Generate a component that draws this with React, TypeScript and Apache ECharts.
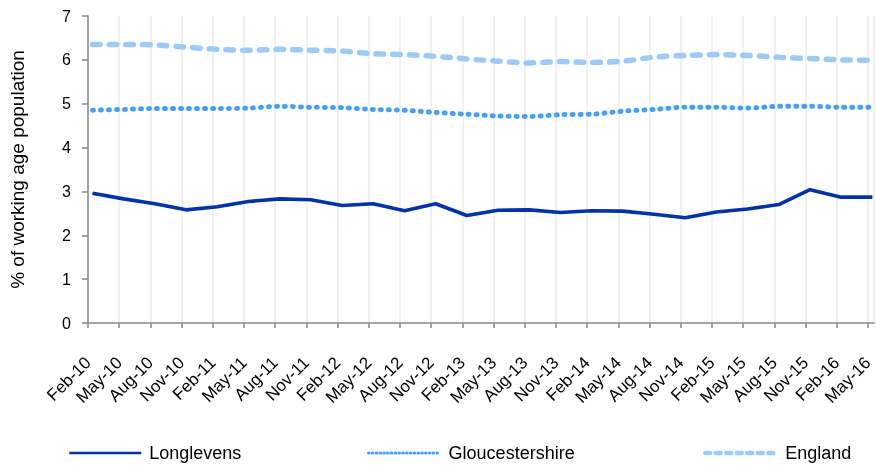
import React, { useEffect, useRef } from 'react';
import * as echarts from 'echarts';

// Quarterly periods (tick labels on the x axis)
const periods = [
  'Feb-10', 'May-10', 'Aug-10', 'Nov-10',
  'Feb-11', 'May-11', 'Aug-11', 'Nov-11',
  'Feb-12', 'May-12', 'Aug-12', 'Nov-12',
  'Feb-13', 'May-13', 'Aug-13', 'Nov-13',
  'Feb-14', 'May-14', 'Aug-14', 'Nov-14',
  'Feb-15', 'May-15', 'Aug-15', 'Nov-15',
  'Feb-16', 'May-16',
];

// % of working age population
const longlevens = [
  2.96, 2.83, 2.72, 2.58, 2.65, 2.77, 2.83, 2.81, 2.68, 2.72, 2.56, 2.72, 2.45,
  2.57, 2.58, 2.52, 2.56, 2.55, 2.48, 2.40, 2.53, 2.60, 2.70, 3.04, 2.87, 2.87,
];
const gloucestershire = [
  4.85, 4.87, 4.89, 4.89, 4.89, 4.90, 4.94, 4.92, 4.91, 4.87, 4.85, 4.80, 4.76,
  4.72, 4.71, 4.75, 4.76, 4.83, 4.87, 4.92, 4.92, 4.90, 4.94, 4.94, 4.92, 4.92,
];
const england = [
  6.35, 6.35, 6.34, 6.29, 6.24, 6.22, 6.24, 6.22, 6.20, 6.14, 6.12, 6.08, 6.02,
  5.97, 5.93, 5.96, 5.94, 5.97, 6.06, 6.10, 6.12, 6.10, 6.06, 6.03, 6.00, 5.99,
];

// Observations are dated mid-month; the axis counts months from Feb-10.
const OBS_DAY = 14;
const MONTHS_PER_PERIOD = 3;
const AXIS_MAX_MONTHS = 75.6;

const toPoints = (vals: number[]) =>
  vals.map((v, i) => [i * MONTHS_PER_PERIOD + (OBS_DAY - 1) / 30, v]);

const FONT = '"Liberation Sans", Arial, sans-serif';

export default function App() {
  const ref = useRef<HTMLDivElement>(null);

  useEffect(() => {
    document.body.style.margin = '0';
    if (!ref.current) return;
    const chart = echarts.init(ref.current, null, { renderer: 'svg' });

    const legendBase = {
      top: 444,
      padding: 0,
      itemWidth: 72,
      itemHeight: 14,
      itemStyle: { opacity: 0 },
      textStyle: {
        fontFamily: FONT,
        fontSize: 18,
        color: '#000',
        padding: [0, 0, 0, 3],
      },
    };

    chart.setOption({
      animation: false,
      textStyle: { fontFamily: FONT },
      grid: { left: 88, right: 0, top: 16, bottom: 142, containLabel: false },
      legend: [
        {
          ...legendBase,
          left: 68,
          data: ['Longlevens'],
          lineStyle: { width: 2.5 },
        },
        {
          ...legendBase,
          left: 367,
          data: ['Gloucestershire'],
          lineStyle: { width: 3.2, type: [0.5, 3.3], cap: 'round' },
        },
        {
          ...legendBase,
          left: 703,
          data: ['England'],
          lineStyle: { width: 4.5, type: [5, 5.5], cap: 'round' },
        },
      ],
      xAxis: {
        type: 'value',
        min: 0,
        max: AXIS_MAX_MONTHS,
        interval: MONTHS_PER_PERIOD,
        axisLine: { show: true, onZero: false, lineStyle: { color: '#888888', width: 1.5 } },
        axisTick: { show: true, inside: false, length: 5, lineStyle: { color: '#888888', width: 1.5 } },
        splitLine: { show: true, lineStyle: { color: '#ececec', width: 1.5 } },
        axisLabel: {
          rotate: 45,
          margin: 37,
          fontSize: 17,
          color: '#000',
          fontFamily: FONT,
          showMaxLabel: false,
          formatter: (v: number) => {
            const i = Math.round(v / MONTHS_PER_PERIOD);
            if (Math.abs(v - i * MONTHS_PER_PERIOD) > 1e-6) return '';
            return periods[i] ?? '';
          },
        },
      },
      yAxis: {
        type: 'value',
        min: 0,
        max: 7,
        interval: 1,
        name: '% of working age population',
        nameLocation: 'middle',
        nameGap: 61,
        nameTextStyle: { fontSize: 19, color: '#000', fontFamily: FONT },
        axisLine: { show: true, lineStyle: { color: '#888888', width: 1.5 } },
        axisTick: { show: true, inside: false, length: 6, lineStyle: { color: '#888888', width: 1.5 } },
        splitLine: { show: false },
        axisLabel: { fontSize: 16, color: '#000', margin: 17, fontFamily: FONT },
      },
      series: [
        {
          name: 'England',
          type: 'line',
          data: toPoints(england),
          symbol: 'none',
          smooth: 0.3,
          color: '#9ccbf9',
          lineStyle: { color: '#9ccbf9', width: 5.5, type: [7.5, 9.2], cap: 'round' },
        },
        {
          name: 'Gloucestershire',
          type: 'line',
          data: toPoints(gloucestershire),
          symbol: 'none',
          smooth: 0.3,
          color: '#4a9ff5',
          lineStyle: { color: '#4a9ff5', width: 5, type: [1, 7], cap: 'round' },
        },
        {
          name: 'Longlevens',
          type: 'line',
          data: toPoints(longlevens),
          symbol: 'none',
          color: '#0033a8',
          lineStyle: { color: '#0033a8', width: 3.6 },
          z: 3,
        },
      ],
    });

    return () => chart.dispose();
  }, []);

  return (
    <div
      ref={ref}
      style={{ position: 'fixed', left: 0, top: 0, width: 876, height: 465 }}
    />
  );
}
